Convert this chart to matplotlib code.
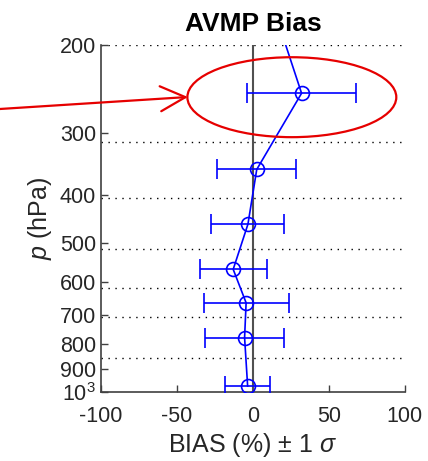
import matplotlib
matplotlib.use("Agg")
import matplotlib.pyplot as plt
from matplotlib.patches import Ellipse
from matplotlib.ticker import FixedLocator, NullLocator

plt.rcParams['font.family'] = ['Liberation Sans', 'DejaVu Sans']
plt.rcParams['mathtext.fontset'] = 'custom'
plt.rcParams['mathtext.rm'] = 'Liberation Sans'
plt.rcParams['mathtext.it'] = 'Liberation Sans:italic'

# layer mid pressures (hPa), bias (%) and 1-sigma (%)
pressure = [170, 250, 356, 459, 566, 661, 777, 973]
bias = [14, 32, 2.5, -3.3, -13, -4.5, -5.5, -3.5]
sigma = [30, 36, 26, 24, 22, 28, 26, 14.6]

# layer boundaries drawn as dotted lines
layer_edges = [200, 313, 406, 514, 617, 707, 855]

yticks = [200, 300, 400, 500, 600, 700, 800, 900, 1000]
ytick_labels = ['200', '300', '400', '500', '600', '700', '800', '900', '$10^3$']
xticks = [-100, -50, 0, 50, 100]

fig = plt.figure(figsize=(4.28, 4.61), dpi=100)
ax = fig.add_axes([0.236, 0.1497, 0.710, 0.7523])

for p in layer_edges:
    ax.axhline(p, color='black', ls=(0, (1, 4)), lw=1.0, zorder=1)
ax.axvline(0, color='#505050', lw=1.5, zorder=2)

ax.errorbar(bias, pressure, xerr=sigma, color='blue', lw=1.2, marker='o',
            ms=10, mfc='none', mew=1.2, capsize=7.5, capthick=1.2, zorder=3)

ax.set_yscale('log')
ax.set_ylim(1000, 200)
ax.set_xlim(-100, 100)
ax.yaxis.set_major_locator(FixedLocator(yticks))
ax.yaxis.set_minor_locator(NullLocator())
ax.set_yticklabels(ytick_labels)
ax.set_xticks(xticks)
ax.set_xticklabels([str(v) for v in xticks])

for s in ['top', 'right']:
    ax.spines[s].set_visible(False)
for s in ['left', 'bottom']:
    ax.spines[s].set_color('#404040')
    ax.spines[s].set_linewidth(1.2)
ax.tick_params(direction='in', length=5, width=1.0, color='#404040',
               labelsize=15.5, labelcolor='#262626')
ax.tick_params(axis='x', pad=10)

ax.set_ylabel('$p$ (hPa)', fontsize=18, color='#262626', labelpad=4)
ax.set_xlabel(r'BIAS (%) $\pm$ 1 $\sigma$', fontsize=18, color='#262626', labelpad=3)
ax.set_title('AVMP Bias', fontsize=19, fontweight='bold', pad=10)

# red annotation
ell = Ellipse((0.628, 0.850), 0.6875, 0.2305, transform=ax.transAxes,
              fill=False, edgecolor='#e60000', lw=1.6, clip_on=False, zorder=5)
ax.add_patch(ell)
ax.annotate('', xy=(0.439, 0.7896), xycoords='figure fraction',
            xytext=(0.0, 0.7636), textcoords='figure fraction',
            arrowprops=dict(arrowstyle='->,head_length=0.9,head_width=0.45',
                            color='#e60000', lw=1.6, mutation_scale=20,
                            shrinkA=0, shrinkB=0))

fig.savefig('out.png', dpi=100)
